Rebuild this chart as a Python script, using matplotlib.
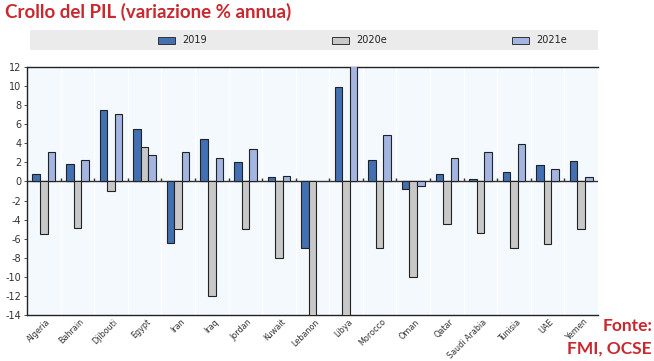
import matplotlib
matplotlib.use("Agg")
import matplotlib.pyplot as plt
import matplotlib.transforms as mtransforms
import numpy as np
from matplotlib.patches import Rectangle

# data (GDP growth, % per year)
countries = ["Algeria", "Bahrain", "Djibouti", "Egypt", "Iran", "Iraq", "Jordan", "Kuwait",
             "Lebanon", "Libya", "Morocco", "Oman", "Qatar", "Saudi Arabia", "Tunisia",
             "UAE", "Yemen"]
g2019 = [0.8, 1.8, 7.5, 5.5, -6.5, 4.5, 2.0, 0.5, -7.0, 9.9, 2.2, -0.8, 0.8, 0.3, 1.0, 1.7, 2.1]
g2020 = [-5.5, -4.9, -1.0, 3.6, -5.0, -12.0, -5.0, -8.0, -25.0, -66.7, -7.0, -10.0, -4.5,
         -5.4, -7.0, -6.6, -5.0]
g2021 = [3.1, 2.3, 7.1, 2.8, 3.1, 2.5, 3.4, 0.6, np.nan, 84.0, 4.9, -0.5, 2.5, 3.1, 3.9, 1.3, 0.5]
series_names = ["2019", "2020e", "2021e"]
yticks = list(range(-14, 13, 2))

colors = ["#4270B2", "#C8C8C8", "#A3B5E0"]
red = "#C8282E"

W, H = 654, 361
fig = plt.figure(figsize=(W / 100, H / 100), dpi=100)

# main plot area (pixel box 27..598 x 67..315)
ax = fig.add_axes([27 / W, 1 - 315 / H, (598 - 27) / W, (315 - 67) / H])
ax.set_facecolor("#F4F9FE")

x = np.arange(len(countries))
bw = 0.225
for k, vals in enumerate([g2019, g2020, g2021]):
    ax.bar(x + (k - 1) * bw, vals, bw, color=colors[k], edgecolor="#222222",
           linewidth=0.8, zorder=3)

ax.set_xlim(-0.5, len(countries) - 0.5)
ax.set_ylim(-14, 12)
ax.set_yticks(yticks)
ax.set_yticklabels([str(t) for t in yticks])
ax.tick_params(axis="y", length=2, width=0.6, pad=2, labelsize=7, colors="#333333")
ax.set_xticks(x)
ax.set_xticklabels(countries, rotation=45, ha="right", va="center", rotation_mode="anchor",
                   fontsize=5.8, color="#333333")
ax.tick_params(axis="x", length=0, pad=4)
# nudge labels a little right, like the original
shift = mtransforms.ScaledTranslation(5 / 100, 0, fig.dpi_scale_trans)
for lab in ax.get_xticklabels():
    lab.set_transform(lab.get_transform() + shift)

# faint boundaries between groups
bounds = x[:-1] + 0.5
for b in bounds:
    ax.axvline(b, color="white", lw=1.0, zorder=0.5)

# zero line with little ticks between groups
ax.axhline(0, color="#333333", lw=1.0, zorder=2)
ax.vlines(bounds, 0, 0.35, color="#333333", lw=1.0, zorder=2)

for s in ["left", "top", "bottom"]:
    ax.spines[s].set_color("#222222")
    ax.spines[s].set_linewidth(1.0)
ax.spines["right"].set_visible(False)

# legend band on top
lax = fig.add_axes([30 / W, 1 - 50 / H, (598 - 30) / W, 20 / H])
lax.set_facecolor("#EBEBEB")
lax.set_xlim(30, 598)
lax.set_ylim(0, 20)
for s in lax.spines.values():
    s.set_visible(False)
lax.set_xticks([])
lax.set_yticks([])
leg_x = [158, 332, 512]
for k, name in enumerate(series_names):
    lax.add_patch(Rectangle((leg_x[k], 6.5), 17, 7, facecolor=colors[k],
                            edgecolor="#333333", linewidth=0.7))
    lax.text(leg_x[k] + 24, 10, name, fontsize=7, va="center", ha="left", color="#222222")

# title and source
fig.text(5 / W, 1 - 12 / H, "Crollo del PIL (variazione % annua)", color=red,
         fontsize=13.5, fontweight="bold", family="Lato", va="center", ha="left")
fig.text(652 / W, 1 - 326 / H, "Fonte:", color=red, fontsize=12.5, fontweight="bold",
         family="Lato", va="center", ha="right")
fig.text(652 / W, 1 - 349 / H, "FMI, OCSE", color=red, fontsize=12.5, fontweight="bold",
         family="Lato", va="center", ha="right")

fig.savefig("out.png", dpi=100)
